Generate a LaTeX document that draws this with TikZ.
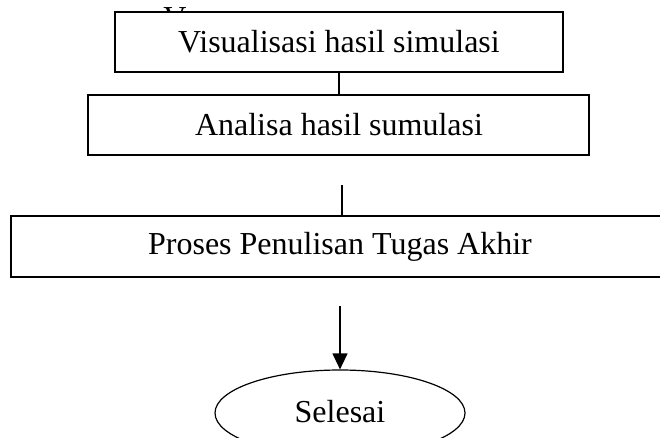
\documentclass[tikz,border=0pt]{standalone}
\usepackage{fontspec}
\setmainfont{Liberation Serif}
\usetikzlibrary{shapes.geometric,arrows.meta}
\begin{document}
\begin{tikzpicture}[x=1pt,y=-1pt,
  lbl/.style={font=\fontsize{32}{36}\selectfont, inner sep=0pt},
  boxline/.style={draw=black, line width=1.4pt, fill=white},
  conn/.style={line width=1.2pt}]
\useasboundingbox (0,0) rectangle (660,437);
\clip (0,0) rectangle (660,437);
% partially hidden text behind first box
\node[lbl, anchor=north] (hid) at (175,7) {V};
% boxes
\draw[boxline] (115,12) rectangle (563,72);
\node[lbl] (b1) at (339,42) {Visualisasi hasil simulasi};
\draw[boxline] (88,95) rectangle (589,155);
\node[lbl] (b2) at (339,125) {Analisa hasil sumulasi};
\draw[boxline] (11,216) rectangle (680,277);
\node[lbl] (b3) at (340,247) {Proses Penulisan Tugas Akhir};
\node[draw, line width=1.2pt, ellipse, minimum width=250pt, minimum height=86pt, inner sep=0pt] (e) at (340,413) {};
\node[lbl] (sel) at (340,412) {Selesai};
% connectors
\coordinate (c1a) at (339,72);
\coordinate (c1b) at (339,95);
\draw[conn] (c1a) -- (c1b);
\coordinate (c2a) at (342,185);
\coordinate (c2b) at (342,216);
\draw[conn] (c2a) -- (c2b);
\coordinate (c3a) at (340,306);
\draw[conn, -{Triangle[length=16pt,width=15pt]}] (c3a) -- (e.north);
\end{tikzpicture}
\end{document}
